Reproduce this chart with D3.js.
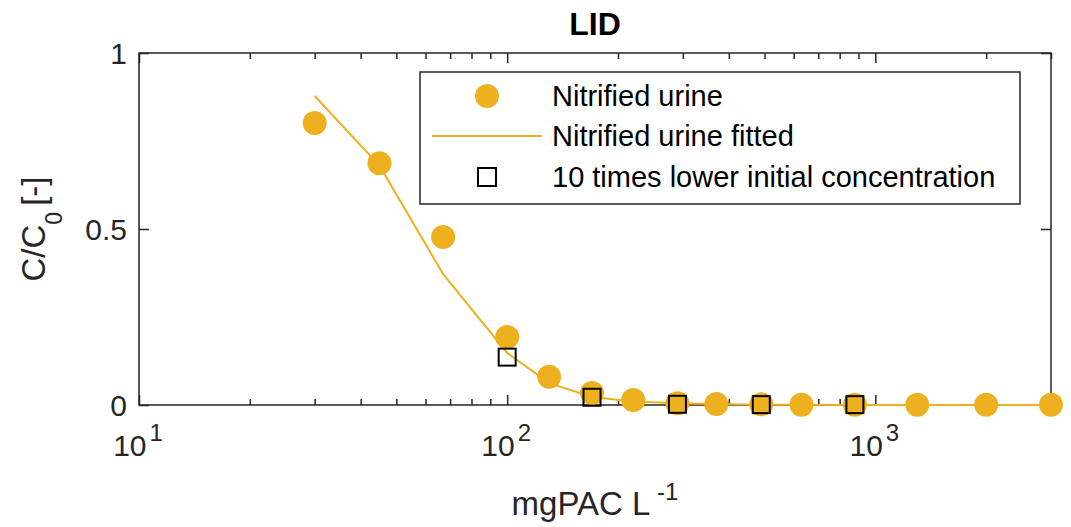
<!DOCTYPE html>
<html lang="en">
<head>
	<meta charset="UTF-8">
	<title>LID</title>
	<style>
		body { margin: 0; background: #fff; }
		text { font-family: "Liberation Sans", Arial, Helvetica, sans-serif; fill: #262626; }
	</style>
</head>
<body>
	<script src="https://cdn.jsdelivr.net/npm/d3@7/dist/d3.min.js"></script>

	<script type="text/javascript">

		// nitrified urine, measured
		var doseX = [30, 45, 67, 100, 130, 170, 220, 290, 370, 490, 630, 880, 1300, 2000, 3000];
		var urineY = [0.801, 0.687, 0.477, 0.193, 0.080, 0.034, 0.014, 0.005, 0.003, 0.002, 0.001, 0.001, 0.001, 0.001, 0.001];
		// fitted curve, same doses
		var fittedY = [0.878, 0.680, 0.372, 0.148, 0.062, 0.023, 0.010, 0.005, 0.003, 0.001, 0.001, 0, 0, 0, 0];
		// 10 times lower initial concentration
		var lowX = [100, 170, 290, 490, 880];
		var lowY = [0.136, 0.022, 0.002, 0.001, 0.001];

		var xMajor = [10, 100, 1000];
		var xMinor = [20, 30, 40, 50, 60, 70, 80, 90, 200, 300, 400, 500, 600, 700, 800, 900, 2000, 3000];
		var yTicks = [0, 0.5, 1];
		var legendLabels = ["Nitrified urine", "Nitrified urine fitted", "10 times lower initial concentration"];

		var width = 1071;
		var height = 527;
		var margin = { top: 53, right: 20, bottom: 122, left: 139 };
		var plotW = width - margin.left - margin.right;
		var plotH = height - margin.top - margin.bottom;

		var orange = "#EDB120";
		var axisCol = "#262626";

		var svg = d3.select("body")
					.append("svg")
					.attr("width", width)
					.attr("height", height);

		var x = d3.scaleLog().domain([10, 3000]).range([0, plotW]);
		var y = d3.scaleLinear().domain([0, 1]).range([plotH, 0]);

		var g = svg.append("g")
					.attr("transform", "translate(" + margin.left + "," + margin.top + ")");

		// axes, ticks inward like matlab
		function styleAxis(sel) {
			sel.select(".domain").remove();
			sel.selectAll("line").attr("stroke", axisCol).attr("stroke-width", 1.5);
			sel.selectAll("text").remove();
		}

		g.append("g").attr("transform", "translate(0," + plotH + ")")
			.call(d3.axisBottom(x).tickValues(xMajor).tickSize(-10).tickFormat(""))
			.call(styleAxis);
		g.append("g").attr("transform", "translate(0," + plotH + ")")
			.call(d3.axisBottom(x).tickValues(xMinor).tickSize(-6).tickFormat(""))
			.call(styleAxis);
		g.append("g")
			.call(d3.axisTop(x).tickValues(xMajor).tickSize(-10).tickFormat(""))
			.call(styleAxis);
		g.append("g")
			.call(d3.axisTop(x).tickValues(xMinor).tickSize(-6).tickFormat(""))
			.call(styleAxis);
		g.append("g")
			.call(d3.axisLeft(y).tickValues(yTicks).tickSize(-10).tickFormat(""))
			.call(styleAxis);
		g.append("g").attr("transform", "translate(" + plotW + ",0)")
			.call(d3.axisRight(y).tickValues(yTicks).tickSize(-10).tickFormat(""))
			.call(styleAxis);

		// box
		g.append("rect")
			.attr("width", plotW)
			.attr("height", plotH)
			.attr("fill", "none")
			.attr("stroke", axisCol)
			.attr("stroke-width", 1.5);

		// x tick labels 10^n
		var xl = g.selectAll(".xlab")
			.data(xMajor)
			.enter().append("text")
			.attr("class", "xlab")
			.attr("x", function(d) { return x(d) - 1; })
			.attr("y", plotH + 51)
			.attr("text-anchor", "middle")
			.attr("font-size", "30px");
		xl.append("tspan").text("10");
		xl.append("tspan")
			.attr("font-size", "24px")
			.attr("dx", 3)
			.attr("dy", -15)
			.text(function(d) { return Math.round(Math.log10(d)); });

		// y tick labels
		g.selectAll(".ylab")
			.data(yTicks)
			.enter().append("text")
			.attr("class", "ylab")
			.attr("x", -12)
			.attr("y", function(d) { return y(d); })
			.attr("dy", "0.36em")
			.attr("text-anchor", "end")
			.attr("font-size", "30px")
			.text(function(d) { return d; });

		// fitted line
		var line = d3.line()
			.x(function(d, i) { return x(doseX[i]); })
			.y(function(d) { return y(d); });

		g.append("path")
			.datum(fittedY)
			.attr("d", line)
			.attr("fill", "none")
			.attr("stroke", orange)
			.attr("stroke-width", 2);

		// measured points
		g.selectAll(".dot")
			.data(urineY)
			.enter().append("circle")
			.attr("class", "dot")
			.attr("cx", function(d, i) { return x(doseX[i]); })
			.attr("cy", function(d) { return y(d); })
			.attr("r", 12)
			.attr("fill", orange);

		// low concentration squares
		var sq = 17;
		g.selectAll(".sq")
			.data(lowY)
			.enter().append("rect")
			.attr("class", "sq")
			.attr("x", function(d, i) { return x(lowX[i]) - sq / 2; })
			.attr("y", function(d) { return y(d) - sq / 2; })
			.attr("width", sq)
			.attr("height", sq)
			.attr("fill", "none")
			.attr("stroke", "#000")
			.attr("stroke-width", 2);

		// title
		svg.append("text")
			.attr("x", margin.left + plotW / 2)
			.attr("y", 35)
			.attr("text-anchor", "middle")
			.attr("font-size", "32px")
			.attr("font-weight", "bold")
			.style("fill", "#000")
			.text("LID");

		// x label
		var xLabel = svg.append("text")
			.attr("x", margin.left + plotW / 2)
			.attr("y", 515)
			.attr("text-anchor", "middle")
			.attr("font-size", "33px");
		xLabel.append("tspan").text("mgPAC L");
		xLabel.append("tspan").attr("font-size", "24px").attr("dy", -15).text(" -1");

		// y label
		var yLabel = svg.append("text")
			.attr("transform", "translate(45," + (margin.top + plotH / 2) + ") rotate(-90)")
			.attr("text-anchor", "middle")
			.attr("font-size", "33px");
		yLabel.append("tspan").text("C/C");
		yLabel.append("tspan").attr("font-size", "23px").attr("dy", 17).text("0");
		yLabel.append("tspan").attr("dy", -17).attr("dx", 6).text("[-]");

		// legend
		var lg = svg.append("g").attr("transform", "translate(420,72)");
		lg.append("rect")
			.attr("width", 600)
			.attr("height", 132)
			.attr("fill", "#fff")
			.attr("stroke", axisCol)
			.attr("stroke-width", 1.5);

		var rowY = [24, 64, 105];
		lg.append("circle").attr("cx", 67).attr("cy", rowY[0]).attr("r", 12).attr("fill", orange);
		lg.append("line").attr("x1", 12).attr("x2", 122).attr("y1", rowY[1]).attr("y2", rowY[1])
			.attr("stroke", orange).attr("stroke-width", 2);
		lg.append("rect").attr("x", 67 - 9).attr("y", rowY[2] - 9).attr("width", 18).attr("height", 18)
			.attr("fill", "none").attr("stroke", "#000").attr("stroke-width", 2);

		lg.selectAll(".lt")
			.data(legendLabels)
			.enter().append("text")
			.attr("class", "lt")
			.attr("x", 132)
			.attr("y", function(d, i) { return rowY[i]; })
			.attr("dy", "0.36em")
			.attr("font-size", "29px")
			.style("fill", "#000")
			.text(function(d) { return d; });

	</script>
</body>
</html>
